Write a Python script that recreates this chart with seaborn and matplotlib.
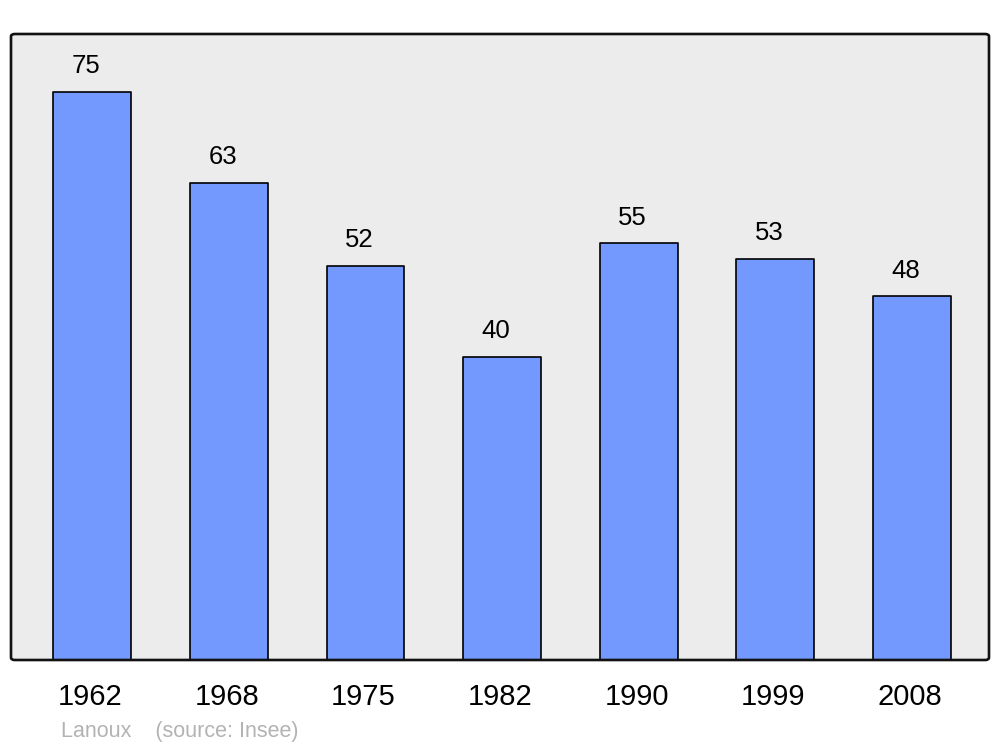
import matplotlib
matplotlib.use("Agg")
import matplotlib.pyplot as plt
import matplotlib.transforms as mtransforms
from matplotlib.patches import FancyBboxPatch
import seaborn as sns
import pandas as pd

# Data
years = ["1962", "1968", "1975", "1982", "1990", "1999", "2008"]
population = [75, 63, 52, 40, 55, 53, 48]

df = pd.DataFrame({"year": years, "pop": population})

sns.set_style("white")
plt.rcParams['font.family'] = ['Liberation Sans', 'DejaVu Sans']
plt.rcParams['text.color'] = 'black'
plt.rcParams['xtick.color'] = 'black'

fig = plt.figure(figsize=(10, 7.47), dpi=100)
ax = fig.add_axes([0.011, 1 - 660 / 747, 0.978, (660 - 34) / 747])
ax.set_facecolor("#ececec")

sns.barplot(data=df, x="year", y="pop", color="#7399ff", saturation=1,
            width=0.57, edgecolor="black", linewidth=1.2, ax=ax)
for p in ax.patches:
    p.set_joinstyle("round")

for i, v in enumerate(population):
    ax.annotate(str(v), (i, v), xytext=(-4.5, 10), textcoords="offset points",
                ha="center", va="bottom", fontsize=18.5, color="black")

ax.set_xlim(-0.595, 6.565)
ax.set_ylim(0, 82.66)
ax.set_yticks([])
ax.set_xlabel("")
ax.set_ylabel("")
ax.tick_params(axis="x", length=0, labelsize=21, pad=16.5, labelcolor="black")
# nudge tick labels a touch to the left, as in the original
shift = mtransforms.ScaledTranslation(-1.5 / 72, 0, fig.dpi_scale_trans)
for lbl in ax.get_xticklabels():
    lbl.set_transform(lbl.get_transform() + shift)
for s in ax.spines.values():
    s.set_visible(False)

frame = FancyBboxPatch((0, 0), 1, 1, boxstyle="round,pad=0,rounding_size=0.004",
                       transform=ax.transAxes, facecolor="none",
                       edgecolor="#111111", linewidth=1.9, clip_on=False, zorder=5)
ax.add_patch(frame)

fig.text(0.061, 1 - 731 / 747, "Lanoux    (source: Insee)", color="#b3b3b3",
         fontsize=15.5, va="center", ha="left")

fig.savefig("out.png", dpi=100)
